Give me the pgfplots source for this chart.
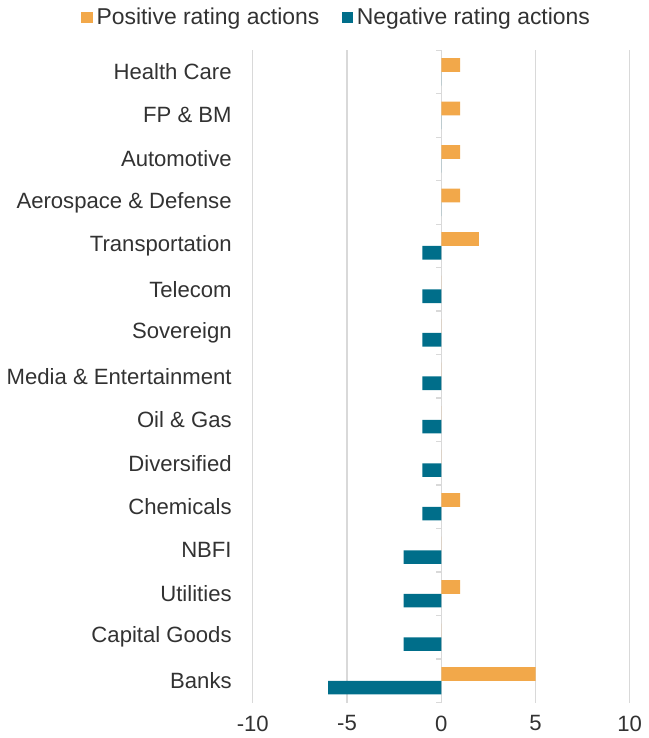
\documentclass[border=0pt]{standalone}
\usepackage{fontspec}
\setmainfont{Liberation Sans}
\usepackage{pgfplots}
\pgfplotsset{compat=1.18}
\definecolor{posorange}{RGB}{242,168,74}
\definecolor{negteal}{RGB}{0,110,138}
\definecolor{gridgray}{RGB}{217,217,217}
\definecolor{txt}{RGB}{50,50,50}

\begin{document}
\begin{tikzpicture}
\begin{axis}[
  scale only axis,
  width=187.5pt, height=324.5pt,
  xmin=-10, xmax=10,
  ymin=-0.5, ymax=14.5,
  xtick={-10,-5,0,5,10},
  xticklabels={-10,-5,0,5,10},
  ytick={0,...,14},
  yticklabels={Banks,Capital Goods,Utilities,NBFI,Chemicals,Diversified,Oil \& Gas,Media \& Entertainment,Sovereign,Telecom,Transportation,Aerospace \& Defense,Automotive,FP \& BM,Health Care},
  xmajorgrids,
  grid style={gridgray, line width=0.6pt},
  axis line style={draw=none},
  major tick length=0pt,
  tick label style={font=\fontsize{11}{12}\selectfont, text=txt},
  yticklabel style={xshift=-7pt},
  xticklabel style={yshift=-3pt},
  xbar,
  bar width=6.8pt,
  legend style={draw=none, at={(0.225,1)}, anchor=south, yshift=7pt,
    legend columns=2, font=\fontsize{11.4}{12}\selectfont, text=txt,
    /tikz/every even column/.append style={column sep=9pt}},
  legend image code/.code={\fill[#1] (0pt,-2.8pt) rectangle (5.6pt,2.8pt);},
  clip=false,
]
\draw[gridgray, line width=0.6pt] (axis cs:0,-0.5) -- (axis cs:0,14.5);
\pgfplotsinvokeforeach{-0.5,0.5,1.5,2.5,3.5,4.5,5.5,6.5,7.5,8.5,9.5,10.5,11.5,12.5,13.5,14.5}{
  \draw[gridgray, line width=0.6pt] (axis cs:0,#1) -- ([xshift=-2.5pt]axis cs:0,#1);
}
\addplot[fill=posorange, draw=none, bar shift=3.4pt] coordinates {
  (5,0) (0,1) (1,2) (0,3) (1,4) (0,5) (0,6) (0,7) (0,8) (0,9) (2,10) (1,11) (1,12) (1,13) (1,14)
};
\addplot[fill=negteal, draw=none, bar shift=-3.4pt] coordinates {
  (-6,0) (-2,1) (-2,2) (-2,3) (-1,4) (-1,5) (-1,6) (-1,7) (-1,8) (-1,9) (-1,10) (0,11) (0,12) (0,13) (0,14)
};
\legend{Positive rating actions, Negative rating actions}
\end{axis}
\end{tikzpicture}
\end{document}
